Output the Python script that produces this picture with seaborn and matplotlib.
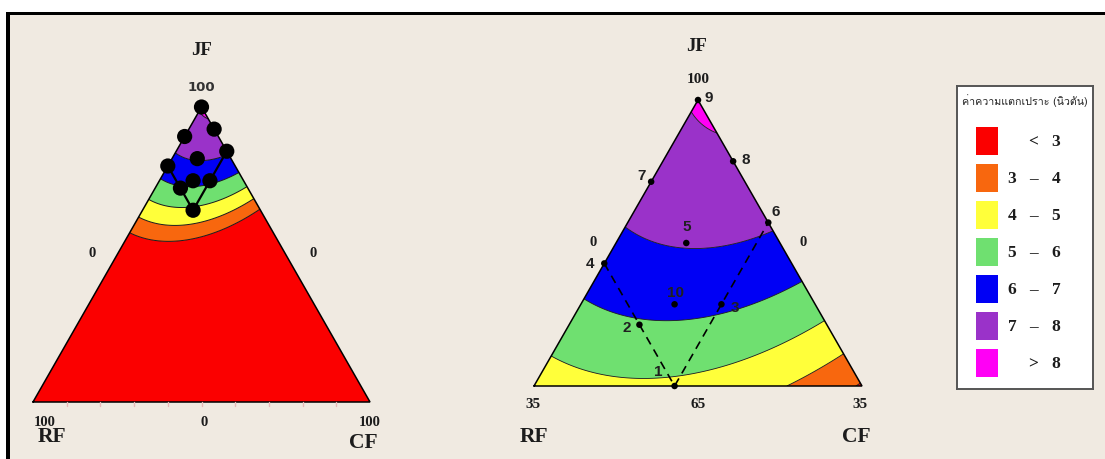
import numpy as np
import pandas as pd
import matplotlib
matplotlib.use("Agg")
import matplotlib.pyplot as plt
import matplotlib.tri as mtri
from matplotlib.patches import Rectangle
from matplotlib import font_manager
from matplotlib.ft2font import FT2Font
import seaborn as sns

# ---------------- data ----------------
point_ids = [1, 2, 3, 4, 5, 6, 7, 8, 9, 10]
jf_pct = [65, 72.5, 75, 80, 82.5, 85, 90, 92.5, 100, 75]
rf_pct = [20, 20, 10, 20, 10, 0, 10, 0, 0, 15]
cf_pct = [15, 7.5, 15, 0, 7.5, 15, 0, 7.5, 0, 10]
force_n = [4.81, 5.91, 6.16, 6.53, 7.06, 7.13, 7.48, 7.84, 8.06, 6.25]  # estimated from colours
boundary_path = [4, 2, 1, 3, 6]          # dashed constraint lines (RF = 20, CF = 15)

levels = [3, 4, 5, 6, 7, 8]
band_colors = ["#fb0000", "#f8670e", "#ffff3a", "#6fe070", "#0000f5", "#9a32c9", "#ff00f5"]
legend_title = "ค่าความแตกเปราะ (นิวตัน)"

JF_LOW = 65.0   # lower bound of JF in the zoomed simplex
SPAN = 35.0     # range of the pseudo-components

# ---------------- fonts ----------------
sns.set_style("white")
thai_font = None
for f in font_manager.fontManager.ttflist:
    try:
        cm = FT2Font(f.fname).get_charmap()
    except Exception:
        continue
    if 0x0E04 in cm and 0x0E19 in cm:
        thai_font = f.name
        break
plt.rcParams["font.family"] = ["DejaVu Sans"]
SERIF = "Liberation Serif"
SANS = "Liberation Sans"

# ---------------- model (Scheffé quadratic in pseudo-components) ----------------
def pseudo(jf, rf, cf):
    jf, rf, cf = map(np.asarray, (jf, rf, cf))
    return (jf - JF_LOW) / SPAN, rf / SPAN, cf / SPAN

def design_matrix(x1, x2, x3):
    return np.column_stack([x1, x2, x3, x1 * x2, x1 * x3, x2 * x3])

px1, px2, px3 = pseudo(jf_pct, rf_pct, cf_pct)
coef, *_ = np.linalg.lstsq(design_matrix(px1, px2, px3), np.asarray(force_n), rcond=None)

def predict(x1, x2, x3):
    return design_matrix(np.ravel(x1), np.ravel(x2), np.ravel(x3)) @ coef

def to_xy(a_top, a_left, a_right):
    # barycentric -> cartesian (left vertex (0,0), right (1,0), top (0.5, sqrt3/2))
    a_top = np.asarray(a_top, float); a_right = np.asarray(a_right, float)
    return a_right + 0.5 * a_top, a_top * np.sqrt(3) / 2

def simplex_mesh(n=150):
    i, j = np.meshgrid(np.arange(n + 1), np.arange(n + 1))
    m = (i + j) <= n
    left = i[m] / n
    right = j[m] / n
    top = 1 - left - right
    return top, left, right

# ---------------- figure ----------------
W, H = 1105, 460
fig = plt.figure(figsize=(W / 100, H / 100), dpi=100)
fig.patch.set_facecolor("white")
fig.patches.append(Rectangle((6 / W, 0), 1 - 6 / W, (H - 13) / H, transform=fig.transFigure,
                             facecolor="black", edgecolor="none", zorder=-10))
fig.patches.append(Rectangle((10 / W, 0), 1 - 10 / W, (H - 16) / H, transform=fig.transFigure,
                             facecolor="#f0eae1", edgecolor="none", zorder=-9))

def tri_axes(left_px, bottom_px, width_px, height_px):
    ax = fig.add_axes([left_px / W, (H - bottom_px) / H, width_px / W, height_px / H])
    ax.set_xlim(0, 1)
    ax.set_ylim(0, np.sqrt(3) / 2)
    ax.set_axis_off()
    ax.patch.set_alpha(0)
    return ax

def draw_field(ax, top, left, right, values, lw):
    x, y = to_xy(top, left, right)
    tri = mtri.Triangulation(x, y)
    lv = [-1e9] + levels + [1e9]
    ax.tricontourf(tri, values, levels=lv, colors=band_colors, antialiased=True)
    ax.tricontour(tri, values, levels=levels, colors="#1a1a1a", linewidths=lw)
    ax.plot([0, 1, 0.5, 0], [0, 0, np.sqrt(3) / 2, 0], color="black", lw=1.1,
            clip_on=False, solid_joinstyle="miter")

serif_bold = dict(family=SERIF, fontweight="bold", color="#1c1c1c", ha="center", va="center")

# ---- left: full simplex ----
axL = tri_axes(33, 403, 337, 295)
top, left, right = simplex_mesh(160)
zL = predict(*pseudo(top * 100, left * 100, right * 100))
draw_field(axL, top, left, right, zL, 0.7)
for k in range(1, 10):
    axL.plot([k / 10, k / 10], [0, -0.012], color="#e8b8b8", lw=1, clip_on=False)

df = pd.DataFrame({"id": point_ids, "JF": jf_pct, "RF": rf_pct, "CF": cf_pct})
df["xL"], df["yL"] = to_xy(df.JF / 100, df.RF / 100, df.CF / 100)
pxs = pseudo(df.JF, df.RF, df.CF)
df["xR"], df["yR"] = to_xy(pxs[0], pxs[1], pxs[2])

path = df.set_index("id").loc[boundary_path]
axL.plot(path.xL, path.yL, color="black", lw=1.6, zorder=4)
sns.scatterplot(data=df, x="xL", y="yL", color="black", s=120, edgecolor="none",
                ax=axL, zorder=5, legend=False, clip_on=False)
axL.set_xlabel(""); axL.set_ylabel("")

axL.text(0.5, 1.036, "JF", fontsize=13.5, **serif_bold)
axL.text(0.5, 0.925, "100", fontsize=9.5, family="DejaVu Sans", fontweight="bold",
         color="#333333", ha="center", va="center")
axL.text(0.175, 0.44, "0", fontsize=10.5, **serif_bold)
axL.text(0.831, 0.44, "0", fontsize=10.5, **serif_bold)
axL.text(0.036, -0.056, "100", fontsize=10.5, **serif_bold)
axL.text(0.507, -0.056, "0", fontsize=10.5, **serif_bold)
axL.text(1.0, -0.056, "100", fontsize=10.5, **serif_bold)
axL.text(0.056, -0.100, "RF", fontsize=15.5, **serif_bold)
axL.text(0.979, -0.117, "CF", fontsize=15.5, **serif_bold)

# ---- right: zoomed pseudo-component simplex ----
axR = tri_axes(534, 387, 328, 286)
top, left, right = simplex_mesh(160)
zR = predict(top, left, right)
draw_field(axR, top, left, right, zR, 0.6)
axR.plot(path.xR, path.yR, color="black", lw=1.2, ls=(0, (5, 3.5)), zorder=4)
sns.scatterplot(data=df, x="xR", y="yR", color="black", s=22, edgecolor="none",
                ax=axR, zorder=5, legend=False, clip_on=False)
axR.set_xlabel(""); axR.set_ylabel("")

label_offsets = {1: (-12, 11), 2: (-9, -2), 3: (10, -2), 4: (-10, 0), 5: (0, 12),
                 6: (5, 8), 7: (-7, 5), 8: (9, 2), 9: (8, 2), 10: (1, 9)}
for _, r in df.iterrows():
    dx, dy = label_offsets[int(r.id)]
    axR.annotate(str(int(r.id)), (r.xR, r.yR), xytext=(dx, dy), textcoords="offset points",
                 ha="center", va="center", fontsize=11, family=SANS, fontweight="bold",
                 color="#202020", zorder=6)

axR.text(0.497, 1.030, "JF", fontsize=13.5, **serif_bold)
axR.text(0.5, 0.930, "100", fontsize=11, **serif_bold)
axR.text(0.180, 0.439, "0", fontsize=10.5, **serif_bold)
axR.text(0.820, 0.439, "0", fontsize=10.5, **serif_bold)
axR.text(-0.003, -0.0545, "35", fontsize=11, **serif_bold)
axR.text(0.5, -0.0545, "65", fontsize=11, **serif_bold)
axR.text(0.994, -0.0545, "35", fontsize=11, **serif_bold)
axR.text(0.0, -0.151, "RF", fontsize=15.5, **serif_bold)
axR.text(0.982, -0.151, "CF", fontsize=15.5, **serif_bold)

# ---- legend ----
axG = fig.add_axes([957 / W, (H - 390) / H, 136 / W, 303 / H])
axG.set_xlim(957, 1093)
axG.set_ylim(390, 87)
axG.set_xticks([]); axG.set_yticks([])
axG.set_facecolor("white")
for s in axG.spines.values():
    s.set_color("#555555"); s.set_linewidth(1.4)
tfam = [thai_font, "DejaVu Sans"] if thai_font else ["DejaVu Sans"]
axG.text(1025, 101, legend_title, fontsize=7.7, family=tfam, ha="center", va="center",
         color="#222222")
labels_lo = [""] + [str(v) for v in levels[:-1]] + [""]
labels_op = ["<"] + ["–"] * (len(levels) - 1) + [">"]
labels_hi = [str(levels[0])] + [str(v) for v in levels[1:]] + [str(levels[-1])]
for k, col in enumerate(band_colors):
    yc = 142 + 37 * k
    axG.add_patch(Rectangle((976, yc - 14), 22, 28, facecolor=col, edgecolor="none"))
    axG.text(1012, yc, labels_lo[k], fontsize=12.5, **serif_bold)
    axG.text(1033, yc, labels_op[k], fontsize=12.5, **serif_bold)
    axG.text(1056, yc, labels_hi[k], fontsize=12.5, **serif_bold)

fig.savefig("out.png", dpi=100, facecolor=fig.get_facecolor())
